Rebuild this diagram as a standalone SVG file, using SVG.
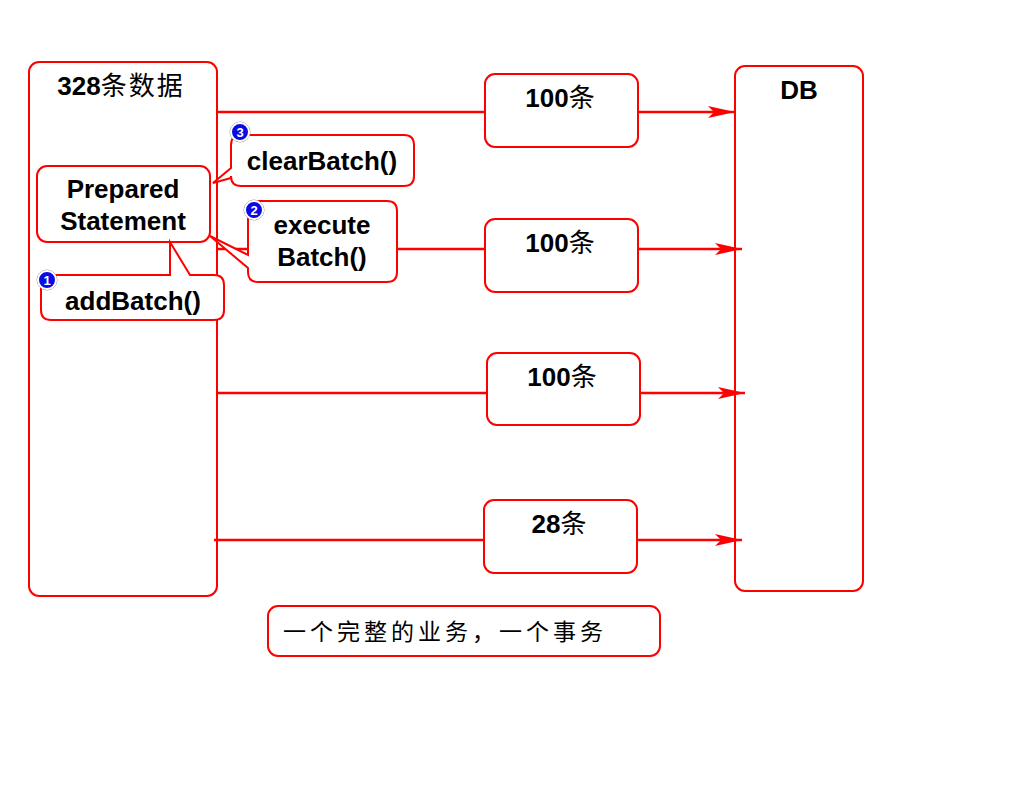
<svg xmlns="http://www.w3.org/2000/svg" width="1024" height="796" viewBox="0 0 1024 796">
<style>
.box{fill:#fff;stroke:#ff0000;stroke-width:2}
.ln{stroke:#ff0000;stroke-width:2.5;fill:none}
.t{font-family:"Liberation Sans","Noto Sans CJK SC",sans-serif;font-weight:bold;font-size:26px;fill:#000;text-anchor:middle}
.cj{font-family:"Noto Sans CJK SC",sans-serif;font-weight:normal}
.bd{fill:#0a0ae6;stroke:#fff;stroke-width:2}
.bo{fill:none;stroke:#999;stroke-width:1}
.bt{font-family:"Liberation Sans",sans-serif;font-weight:bold;font-size:13px;fill:#fff;text-anchor:middle}
</style>
<defs>
<marker id="ar" markerWidth="30" markerHeight="16" refX="27" refY="8" orient="auto" markerUnits="userSpaceOnUse">
<path d="M0,2 L27,8 L0,14 L6,8 Z" fill="#ff0000"/>
</marker>
</defs>
<rect width="1024" height="796" fill="#fff"/>
<g id="data">
<rect class="box" x="29" y="62" width="188" height="534" rx="10"/>
<text class="t" x="121" y="95">328<tspan class="cj" letter-spacing="2">条数据</tspan></text>
</g>
<g id="db">
<rect class="box" x="735" y="66" width="128" height="525" rx="10"/>
<text class="t" x="799" y="99">DB</text>
</g>
<g id="connectors">
<line class="ln" x1="217" y1="112" x2="735" y2="112" marker-end="url(#ar)"/>
<line class="ln" x1="217" y1="249" x2="742" y2="249" marker-end="url(#ar)"/>
<line class="ln" x1="217" y1="393" x2="745" y2="393" marker-end="url(#ar)"/>
<line class="ln" x1="214" y1="540" x2="742" y2="540" marker-end="url(#ar)"/>
</g>
<g id="b1">
<rect class="box" x="485" y="74" width="153" height="73" rx="10"/>
<text class="t" x="560" y="107">100<tspan class="cj">条</tspan></text>
</g>
<g id="b2">
<rect class="box" x="485" y="219" width="153" height="73" rx="10"/>
<text class="t" x="560" y="252">100<tspan class="cj">条</tspan></text>
</g>
<g id="b3">
<rect class="box" x="487" y="353" width="153" height="72" rx="10"/>
<text class="t" x="562" y="386">100<tspan class="cj">条</tspan></text>
</g>
<g id="b4">
<rect class="box" x="484" y="500" width="153" height="73" rx="10"/>
<text class="t" x="559" y="533">28<tspan class="cj">条</tspan></text>
</g>
<g id="ps">
<rect class="box" x="37" y="166" width="173" height="76" rx="10"/>
<text class="t" x="123" y="198">Prepared</text>
<text class="t" x="123" y="230">Statement</text>
</g>
<g id="add">
<path class="box" d="M51,275 H170 V242 L190,275 H214 Q224,275 224,285 V310 Q224,320 214,320 H51 Q41,320 41,310 V285 Q41,275 51,275 Z"/>
<text class="t" x="133" y="310">addBatch()</text>
<circle class="bo" cx="47" cy="280" r="10"/>
<circle class="bd" cx="47" cy="280" r="9"/>
<text class="bt" x="47" y="285">1</text>
</g>
<g id="clear">
<path class="box" d="M241,135 H404 Q414,135 414,145 V176 Q414,186 404,186 H241 Q231,186 231,176 V178 L213,183 L231,168 V145 Q231,135 241,135 Z"/>
<text class="t" x="322" y="170">clearBatch()</text>
<circle class="bo" cx="240" cy="132" r="10"/>
<circle class="bd" cx="240" cy="132" r="9"/>
<text class="bt" x="240" y="137">3</text>
</g>
<g id="exec">
<path class="box" d="M258,201 H387 Q397,201 397,211 V272 Q397,282 387,282 H258 Q248,282 248,272 V268 L210,236 L248,255 V211 Q248,201 258,201 Z"/>
<text class="t" x="322" y="234">execute</text>
<text class="t" x="322" y="266">Batch()</text>
<circle class="bo" cx="254" cy="210" r="10"/>
<circle class="bd" cx="254" cy="210" r="9"/>
<text class="bt" x="254" y="215">2</text>
</g>
<g id="note">
<rect class="box" x="268" y="606" width="392" height="50" rx="10"/>
<text x="445" y="640" style="font-family:'Noto Sans CJK SC',sans-serif;font-size:23px;fill:#000;text-anchor:middle;letter-spacing:4px">一个完整的业务，一个事务</text>
</g>
</svg>
